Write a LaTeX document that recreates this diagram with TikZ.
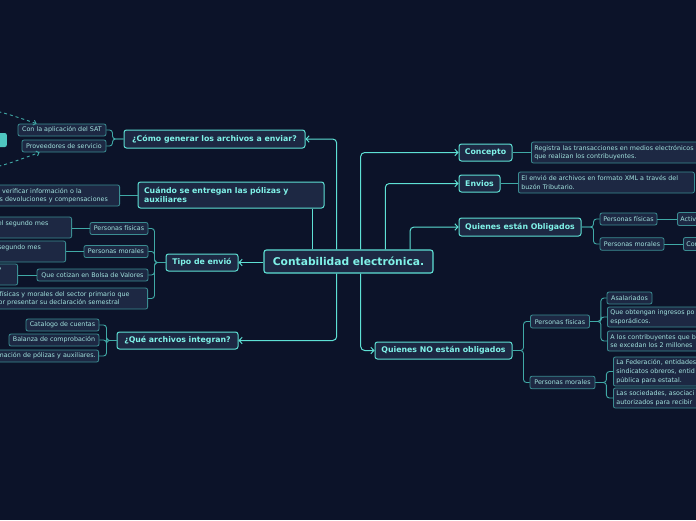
\documentclass[tikz,border=0pt]{standalone}
\usepackage{fontspec}
\setmainfont{DejaVu Sans}
\usetikzlibrary{arrows.meta}
\definecolor{bgC}{HTML}{0C1329}
\definecolor{nodeF}{HTML}{1D2843}
\definecolor{mainB}{HTML}{5EE0D4}
\definecolor{subB}{HTML}{3B8D92}
\definecolor{mainT}{HTML}{80F2E8}
\definecolor{subT}{HTML}{A3E3DF}
\definecolor{subL}{HTML}{40A9A6}
\definecolor{tealF}{HTML}{4FC6C0}
\begin{document}
\begin{tikzpicture}[x=1pt,y=-1pt,
  central/.style={draw=mainB, line width=1.1pt, fill=nodeF, rounded corners=2.5pt, text=mainT,
    font=\fontsize{10.7}{12}\selectfont\bfseries, inner sep=0pt, minimum height=23pt},
  topic/.style={draw=mainB, line width=1pt, fill=nodeF, rounded corners=2.5pt, text=mainT,
    font=\fontsize{7.8}{9.5}\selectfont\bfseries, inner sep=0pt},
  leaf/.style={draw=subB, line width=0.8pt, fill=nodeF, rounded corners=2pt, text=subT,
    font=\fontsize{6.35}{8.7}\selectfont, inner sep=0pt},
  leftcut/.style={leaf, anchor=east, align=left, inner xsep=3pt, inner ysep=0pt},
  rightcut/.style={leaf, anchor=west, align=left, inner xsep=3pt, inner ysep=0pt, text width=170pt},
  mainline/.style={draw=mainB, line width=1pt, rounded corners=4pt},
  mainarrow/.style={mainline, -{Straight Barb[length=3pt,width=6.5pt]}},
  subline/.style={draw=subL, line width=0.9pt, rounded corners=3pt},
]
\fill[bgC] (0,0) rectangle (696,520);
\useasboundingbox (0,0) rectangle (696,520);
\clip (0,0) rectangle (696,520);

% central and main topics
\node[central, minimum width=169pt] (ce) at (348.5,261.5) {Contabilidad electrónica.};
\node[topic, minimum width=181pt, minimum height=18pt] (como) at (214.5,139) {¿Cómo generar los archivos a enviar?};
\node[topic, minimum width=186pt, minimum height=26pt, text width=174pt, align=left] (cuando) at (231,195) {Cuándo se entregan las pólizas y\\auxiliares};
\node[topic, minimum width=72pt, minimum height=17pt] (tipo) at (202,262.5) {Tipo de envió};
\node[topic, minimum width=121pt, minimum height=17pt] (que) at (177.5,340.5) {¿Qué archivos integran?};
\node[topic, minimum width=53pt, minimum height=17pt] (concepto) at (485.5,152.5) {Concepto};
\node[topic, minimum width=41pt, minimum height=17pt] (envios) at (479.5,183.5) {Envios};
\node[topic, minimum width=122pt, minimum height=18pt] (oblig) at (520,227) {Quienes están Obligados};
\node[topic, minimum width=137pt, minimum height=17pt] (noobl) at (443.5,350.5) {Quienes NO están obligados};

% left leaves
\node[fill=tealF, rounded corners=2pt, minimum width=40pt, minimum height=14pt, anchor=east, inner sep=0pt] (lnode) at (7,140) {};
\node[leaf, minimum width=88pt, minimum height=12pt] (sat) at (62,130) {Con la aplicación del SAT};
\node[leaf, minimum width=84pt, minimum height=12pt] (prov) at (64,146) {Proveedores de servicio};
\node[leftcut, text width=117pt, minimum height=21pt] (cuD) at (120,195.5) {\hspace*{2.5pt}verificar información o la\\s devoluciones y compensaciones};

\node[leaf, minimum width=58pt, minimum height=12pt] (tpf) at (119,228.5) {Personas físicas};
\node[leaf, minimum width=64pt, minimum height=12pt] (tpm) at (116,251.5) {Personas morales};
\node[leaf, minimum width=111pt, minimum height=12pt] (tbv) at (92.5,275) {Que cotizan en Bolsa de Valores};
\node[leftcut, text width=150pt, minimum height=21pt] (spD) at (148,298.5) {\hspace*{5pt}físicas y morales del sector primario que\\por presentar su declaración semestral};
\node[leftcut, text width=74.8pt, minimum height=21pt] (tpfD) at (72,227.5) {del segundo mes\\\mbox{}};
\node[leftcut, text width=64.5pt, minimum height=21pt] (tpmD) at (66,251.5) {segundo mes\\\mbox{}};
\node[leftcut, text width=16.5pt, minimum height=21pt] (tbvD) at (18,274.5) {?\\\mbox{}};

\node[leaf, minimum width=73pt, minimum height=12pt] (cat) at (62.5,325) {Catalogo de cuentas};
\node[leaf, minimum width=90pt, minimum height=12pt] (bal) at (54,340) {Balanza de comprobación};
\node[leftcut, text width=120pt, minimum height=12pt, align=right] (infD) at (99,356) {mación de pólizas y auxiliares.};

% right leaves
\node[rightcut, minimum height=21pt] (concD) at (531,152.5) {Registra las transacciones en medios electrónicos\\que realizan los contribuyentes.};
\node[rightcut, minimum height=21pt] (envD) at (518,182.5) {El envió de archivos en formato XML a través del\\buzón Tributario.};
\node[leaf, minimum width=57pt, minimum height=12pt] (opf) at (628.5,219) {Personas físicas};
\node[leaf, minimum width=64pt, minimum height=12.5pt] (opm) at (632,244) {Personas morales};
\node[rightcut, minimum height=13pt] (activ) at (677,219) {Activ};
\node[rightcut, minimum height=13pt] (con) at (683,244) {Con};

\node[leaf, minimum width=59pt, minimum height=13pt] (npf) at (560,321.5) {Personas físicas};
\node[leaf, minimum width=65pt, minimum height=12.5pt] (npm) at (562.5,382.5) {Personas morales};
\node[leaf, minimum width=45pt, minimum height=12pt] (asal) at (629.5,298) {Asalariados};
\node[rightcut, minimum height=20pt] (qobt) at (607,317) {Que obtengan ingresos po\\esporádicos.};
\node[rightcut, minimum height=20pt] (alos) at (607,341) {A los contribuyentes que b\\se excedan los 2 millones};
\node[rightcut, minimum height=29pt] (lafed) at (613,371.5) {La Federación, entidades\\sindicatos obreros, entid\\pública para estatal.};
\node[rightcut, minimum height=20pt] (lasoc) at (613,398) {Las sociedades, asociaci\\autorizados para recibir};

% main connectors
\draw[mainarrow] ([xshift=-11.8pt]ce.north) |- (como.east);
\draw[mainline] ([xshift=-36.2pt]ce.north) -- ([xshift=-36.2pt]ce.north |- cuando.south);
\draw[mainarrow] (ce.west |- tipo.east) -- (tipo.east);
\draw[mainarrow] ([xshift=-11.8pt]ce.south) |- (que.east);
\draw[mainarrow] ([xshift=12.2pt]ce.north) |- (concepto.west);
\draw[mainarrow] ([xshift=36.8pt]ce.north) |- (envios.west);
\draw[mainarrow] ([xshift=61.5pt]ce.north) |- (oblig.west);
\draw[mainarrow] ([xshift=12.2pt]ce.south) |- (noobl.west);

% sub connectors
\draw[subline] (como.west) -- ++(-11,0) |- (sat.east);
\draw[subline] (como.west) -- ++(-11,0) |- (prov.east);
\draw[subline] (cuando.west) -- (cuando.west -| cuD.east);
\foreach \c in {tpf,tpm,tbv,spD}{\draw[subline] (tipo.west) -- ++(-11,0) |- (\c.east);}
\draw[subline] (tpf.west) -- (tpf.west -| tpfD.east);
\draw[subline] (tpm.west) -- (tpm.west -| tpmD.east);
\draw[subline] (tbv.west) -- (tbv.west -| tbvD.east);
\foreach \c in {cat,bal,infD}{\draw[subline] (que.west) -- ++(-10,0) |- (\c.east);}
\draw[subline] (concepto.east) -- (concepto.east -| concD.west);
\draw[subline] (envios.east) -- (envios.east -| envD.west);
\foreach \c in {opf,opm}{\draw[subline] (oblig.east) -- ++(12,0) |- (\c.west);}
\draw[subline] (opf.east) -- (opf.east -| activ.west);
\draw[subline] (opm.east) -- (opm.east -| con.west);
\foreach \c in {npf,npm}{\draw[subline] (noobl.east) -- ++(11,0) |- (\c.west);}
\foreach \c in {asal,qobt,alos}{\draw[subline] (npf.east) -- ++(11,0) |- (\c.west);}
\foreach \c in {lafed,lasoc}{\draw[subline] (npm.east) -- ++(11,0) |- (\c.west);}

% dashed relations from off-picture
\coordinate (dA) at (-25,106);
\coordinate (dB) at (-25,172);
\draw[subline, dashed, dash pattern=on 3pt off 3pt, -{Straight Barb[length=2.5pt,width=5pt]}] (dA) .. controls (5,113) .. ([xshift=19pt]sat.north west);
\draw[subline, dashed, dash pattern=on 3pt off 3pt, -{Straight Barb[length=2.5pt,width=5pt]}] (dB) .. controls (5,165) .. ([xshift=18pt]prov.south west);
\end{tikzpicture}
\end{document}
